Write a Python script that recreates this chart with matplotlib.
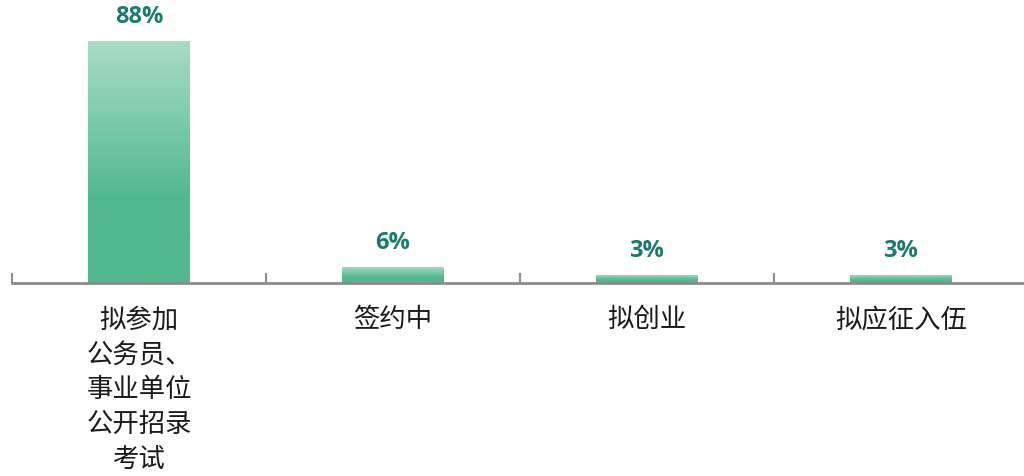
import matplotlib
matplotlib.use("Agg")
import matplotlib.pyplot as plt
import numpy as np
from matplotlib.colors import LinearSegmentedColormap

categories = ["拟参加\n公务员、\n事业单位\n公开招录\n考试", "签约中", "拟创业", "拟应征入伍"]
values = [88, 6, 3, 3]
labels = ["88%", "6%", "3%", "3%"]

plt.rcParams['font.family'] = ['Noto Sans CJK SC', 'DejaVu Sans']

W, H = 1024, 477
fig = plt.figure(figsize=(W/100, H/100), dpi=100)
ax = fig.add_axes([12/W, 193/H, 1016/W, 275/H])

cmap = LinearSegmentedColormap.from_list("g", [(0, "#52b98e"), (0.35, "#52b98e"), (1, "#a9ddc6")])
x = np.arange(len(values))
bw = 0.4
bars = ax.bar(x, values, width=bw, color="none", edgecolor="none")
grad = np.linspace(0, 1, 256).reshape(-1, 1)
for b in bars:
    x0, y0 = b.get_x(), b.get_y()
    w, h = b.get_width(), b.get_height()
    im = ax.imshow(grad, cmap=cmap, origin="lower", aspect="auto",
                   extent=[x0, x0 + w, y0, y0 + h], zorder=2)
    im.set_clip_path(b)

for xi, v, t in zip(x, values, labels):
    ax.annotate(t, (xi, v), xytext=(0, 9), textcoords="offset points",
                ha="center", va="bottom", fontsize=17, fontweight="bold",
                color="#1b7b6e", family=["Open Sans", "DejaVu Sans"])

ax.set_xlim(-0.5, len(values) - 0.5)
ax.set_ylim(0, 100)
for s in ["top", "right", "left"]:
    ax.spines[s].set_visible(False)
ax.spines["bottom"].set_color("#8c8c8c")
ax.spines["bottom"].set_linewidth(2)
ax.set_yticks([])
ax.set_xticks(x)
ax.set_xticklabels(categories, fontsize=19, color="#1a1a1a", linespacing=1.38)
ax.tick_params(axis="x", which="major", length=0, pad=16)
ax.set_xticks(np.arange(-0.5, len(values)), minor=True)
ax.tick_params(axis="x", which="minor", direction="in", length=7, width=1.5, color="#8c8c8c")

fig.savefig("out.png", dpi=100)
